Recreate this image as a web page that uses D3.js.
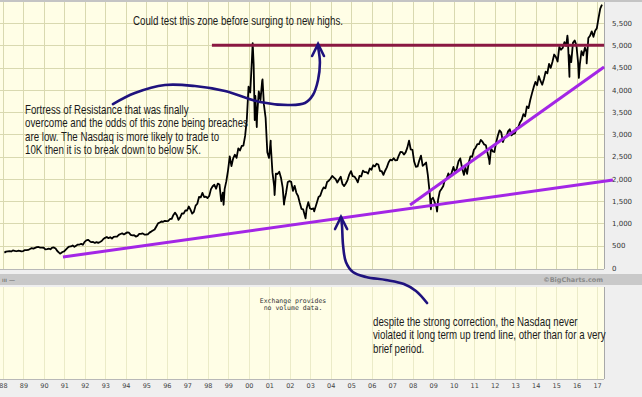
<!DOCTYPE html>
<html>
<head>
<meta charset="utf-8">
<script src="https://cdn.jsdelivr.net/npm/d3@7/dist/d3.min.js"></script>
<style>
  body { margin: 0; background: #efefef; }
  svg { display: block; }
</style>
</head>
<body>
<svg id="chart" width="642" height="397"></svg>
<script>
// Nasdaq composite, monthly closes from Jan 1988
const startYear = 1988;
const closes = [
  345, 367, 374, 379, 371, 394, 387, 376, 387, 383, 371, 381,      // 1988
  401, 399, 406, 427, 446, 435, 453, 469, 472, 456, 456, 455,      // 1989
  416, 425, 435, 421, 459, 462, 438, 381, 345, 329, 359, 374,      // 1990
  414, 453, 482, 484, 506, 476, 502, 526, 527, 542, 523, 586,      // 1991
  620, 633, 603, 579, 585, 563, 580, 563, 583, 605, 652, 677,      // 1992
  696, 670, 690, 661, 700, 704, 705, 743, 763, 779, 754, 777,      // 1993
  800, 793, 743, 733, 735, 706, 722, 765, 764, 777, 750, 752,      // 1994
  756, 794, 817, 843, 864, 933, 1001, 1020, 1044, 1036, 1059, 1052, // 1995
  1060, 1100, 1101, 1191, 1243, 1185, 1081, 1141, 1227, 1222, 1293, 1291, // 1996
  1380, 1309, 1222, 1260, 1400, 1442, 1594, 1587, 1686, 1594, 1601, 1570, // 1997
  1619, 1771, 1835, 1868, 1779, 1895, 1873, 1499, 1694, 1771, 1950, 2193, // 1998
  2506, 2288, 2461, 2543, 2471, 2686, 2638, 2739, 2746, 2966, 3336, 4069, // 1999
  3940, 4697, 4573, 3861, 3401, 3966, 3767, 4206, 3673, 3370, 2598, 2471, // 2000
  2773, 2152, 1840, 2116, 2110, 2161, 2027, 1805, 1499, 1690, 1931, 1950, // 2001
  1934, 1731, 1845, 1688, 1616, 1463, 1328, 1315, 1172, 1330, 1479, 1336, // 2002
  1321, 1338, 1341, 1464, 1596, 1623, 1735, 1810, 1787, 1932, 1960, 2003, // 2003
  2066, 2030, 1994, 1920, 1987, 2048, 1887, 1838, 1897, 1975, 2097, 2175, // 2004
  2062, 2052, 1999, 1922, 2068, 2057, 2185, 2152, 2152, 2120, 2233, 2205, // 2005
  2306, 2281, 2340, 2323, 2179, 2172, 2091, 2184, 2258, 2367, 2432, 2415, // 2006
  2464, 2416, 2422, 2525, 2605, 2603, 2546, 2596, 2702, 2859, 2661, 2652, // 2007
  2389, 2271, 2279, 2413, 2523, 2293, 2326, 2368, 2092, 1721, 1536, 1577, // 2008
  1476, 1378, 1529, 1717, 1774, 1835, 1979, 2009, 2122, 2045, 2145, 2269, // 2009
  2147, 2238, 2398, 2461, 2257, 2109, 2255, 2114, 2369, 2507, 2498, 2653, // 2010
  2700, 2782, 2781, 2874, 2835, 2774, 2756, 2579, 2415, 2684, 2620, 2605, // 2011
  2814, 2967, 3091, 3046, 2827, 2935, 2940, 3067, 3116, 2977, 3010, 3020, // 2012
  3142, 3160, 3268, 3329, 3456, 3403, 3626, 3590, 3771, 3920, 4060, 4177, // 2013
  4104, 4308, 4199, 4115, 4243, 4408, 4370, 4580, 4493, 4631, 4792, 4736, // 2014
  4635, 4964, 4901, 4941, 5070, 4987, 5128, 4777, 4620, 5054, 5109, 5007, // 2015
  4614, 4558, 4870, 4775, 4948, 4843, 5162, 5213, 5312, 5189, 5324, 5383, // 2016
  5615, 5825, 5912                                                   // 2017
];

// intra-month highs and lows visible as spikes [decimal year, value]
const extremes = [
  [1990.79, 325], [1998.77, 1419], [2000.19, 5048], [2000.29, 3321],
  [2000.39, 3164], [2000.67, 4234], [2001.07, 2859], [2001.26, 1639],
  [2001.72, 1423], [2002.77, 1114], [2003.19, 1271], [2008.89, 1316],
  [2009.19, 1268], [2010.50, 2091], [2011.75, 2335], [2015.55, 5218],
  [2015.65, 4292], [2016.11, 4267], [2016.49, 4594]
];

const priceTicks = [0, 500, 1000, 1500, 2000, 2500, 3000, 3500, 4000, 4500, 5000, 5500];
const yearTicks = [1988, 1989, 1990, 1991, 1992, 1993, 1994, 1995, 1996, 1997,
  1998, 1999, 2000, 2001, 2002, 2003, 2004, 2005, 2006, 2007,
  2008, 2009, 2010, 2011, 2012, 2013, 2014, 2015, 2016, 2017];

// hand drawn annotations, in chart units [decimal year, value]
const resistanceLine = [[1998.20, 5000], [2017.34, 5000]];
const longTrend = [[1990.93, 247], [2017.77, 1975]];
const recentTrend = [[2007.87, 1414], [2017.34, 4512]];
const arrowTop = [[1993.37, 3681], [1994.44, 3928], [1995.91, 4108], [1997.37, 4085],
  [1998.84, 3973], [2000.55, 3726], [2002.01, 3659], [2002.74, 3704],
  [2003.13, 3883], [2003.38, 4220], [2003.47, 4624], [2003.38, 4961]];
const arrowTopHead = [[2003.09, 4759], [2003.38, 5028], [2003.67, 4759]];
const arrowLow = [[2004.50, 1145], [2004.55, 943], [2004.60, 516], [2004.74, 135],
  [2005.08, -90], [2005.72, -202], [2006.69, -269], [2007.57, -359],
  [2008.16, -516], [2008.70, -786]];
const arrowLowHead = [[2004.21, 875], [2004.50, 1145], [2004.80, 875]];

const noteTop = ["Could test this zone before surging to new highs."];
const noteLeft = ["Fortress of Resistance that was finally",
  "overcome and the odds of this zone being breaches",
  "are low. The Nasdaq is more likely to trade to",
  "10K then it is to break down to below 5K."];
const noteBottom = ["despite the strong correction, the Nasdaq never",
  "violated it long term up trend line, other than for a very",
  "brief period."];

const plot = { left: 0, right: 604, top: 2, bottom: 269 };
const vol = { top: 287, bottom: 379 };

const svg = d3.select('#chart');

const x = d3.scaleLinear()
  .domain([1987.858, 2017.336])
  .range([plot.left, plot.right]);

const y = d3.scaleLinear()
  .domain([0, 5500])
  .range([268, 23]);

const series = closes.map((v, i) => [startYear + (i + 0.85) / 12, v])
  .concat(extremes)
  .sort((a, b) => a[0] - b[0]);

// backgrounds
svg.append('rect').attr('width', 642).attr('height', 397).attr('fill', '#efefef');
svg.append('rect').attr('width', 642).attr('height', plot.top).attr('fill', '#c4c4c4');
svg.append('rect')
  .attr('x', plot.left).attr('y', plot.top)
  .attr('width', plot.right - plot.left).attr('height', plot.bottom - plot.top)
  .attr('fill', '#fffee6');
svg.append('rect').attr('y', 274).attr('width', 642).attr('height', 11).attr('fill', '#c9c9c9');
svg.append('rect')
  .attr('x', plot.left).attr('y', vol.top)
  .attr('width', plot.right - plot.left).attr('height', vol.bottom - vol.top)
  .attr('fill', '#fffee6');

// grid
svg.append('g')
  .selectAll('line')
  .data(priceTicks.filter(d => d > 0))
  .join('line')
  .attr('x1', plot.left).attr('x2', plot.right)
  .attr('y1', d => Math.round(y(d)) + 0.5).attr('y2', d => Math.round(y(d)) + 0.5)
  .attr('stroke', '#d9d9b0');

svg.append('g')
  .selectAll('line')
  .data(yearTicks)
  .join('line')
  .attr('x1', d => Math.round(x(d)) + 0.5).attr('x2', d => Math.round(x(d)) + 0.5)
  .attr('y1', plot.top).attr('y2', plot.bottom)
  .attr('stroke', '#d9d9b0');

svg.append('g')
  .selectAll('line')
  .data(yearTicks)
  .join('line')
  .attr('x1', d => Math.round(x(d)) + 0.5).attr('x2', d => Math.round(x(d)) + 0.5)
  .attr('y1', vol.top).attr('y2', vol.bottom)
  .attr('stroke', '#ebebc8');

// frame
svg.append('line')
  .attr('x1', plot.right + 0.5).attr('x2', plot.right + 0.5)
  .attr('y1', plot.top).attr('y2', plot.bottom)
  .attr('stroke', '#a8a8a8');
svg.append('line')
  .attr('x1', plot.left).attr('x2', plot.right)
  .attr('y1', plot.bottom + 0.5).attr('y2', plot.bottom + 0.5)
  .attr('stroke', '#b8b8b8');
svg.append('line')
  .attr('x1', plot.right + 0.5).attr('x2', plot.right + 0.5)
  .attr('y1', vol.top).attr('y2', vol.bottom)
  .attr('stroke', '#a8a8a8');
svg.append('line')
  .attr('x1', plot.left).attr('x2', plot.right)
  .attr('y1', vol.bottom + 0.5).attr('y2', vol.bottom + 0.5)
  .attr('stroke', '#b8b8b8');

// axes
svg.append('g')
  .attr('transform', `translate(${plot.right},0)`)
  .call(d3.axisRight(y).tickValues(priceTicks).tickSize(0).tickPadding(8).tickFormat(d3.format(',')))
  .call(g => g.select('.domain').remove())
  .selectAll('text')
  .attr('font-family', 'DejaVu Sans, Verdana, sans-serif')
  .attr('font-size', 7)
  .attr('fill', '#333');

svg.append('g')
  .attr('transform', `translate(0,${vol.bottom})`)
  .call(d3.axisBottom(x).tickValues(yearTicks).tickSize(0).tickPadding(4).tickFormat(d => String(d).slice(2)))
  .call(g => g.select('.domain').remove())
  .selectAll('text')
  .attr('font-family', 'DejaVu Sans, Verdana, sans-serif')
  .attr('font-size', 6.5)
  .attr('fill', '#444');

// price line
svg.append('clipPath').attr('id', 'clip')
  .append('rect')
  .attr('x', plot.left).attr('y', plot.top)
  .attr('width', plot.right - plot.left).attr('height', plot.bottom - plot.top);

const line = d3.line().x(d => x(d[0])).y(d => y(d[1]));

svg.append('path')
  .datum(series)
  .attr('clip-path', 'url(#clip)')
  .attr('fill', 'none')
  .attr('stroke', '#000')
  .attr('stroke-width', 1.8)
  .attr('stroke-linejoin', 'round')
  .attr('d', line);

// volume panel texts
svg.append('text')
  .attr('x', 293).attr('y', 303)
  .attr('text-anchor', 'middle')
  .attr('font-family', 'DejaVu Sans Mono, monospace')
  .attr('font-size', 6.5)
  .attr('fill', '#333')
  .selectAll('tspan')
  .data(['Exchange provides', 'no volume data.'])
  .join('tspan')
  .attr('x', 293)
  .attr('dy', (d, i) => i ? 7 : 0)
  .text(d => d);

svg.append('text')
  .attr('x', 603).attr('y', 282)
  .attr('text-anchor', 'end')
  .attr('font-family', 'DejaVu Sans, Verdana, sans-serif')
  .attr('font-weight', 'bold')
  .attr('font-size', 6.5)
  .attr('fill', '#8a8a8a')
  .text('\u00A9BigCharts.com');

svg.append('text')
  .attr('x', 2).attr('y', 282)
  .attr('font-family', 'DejaVu Sans, sans-serif')
  .attr('font-size', 6)
  .attr('fill', '#555')
  .text('\u0131\u0131\u0131 \u2014');

// annotations
svg.append('path')
  .datum(resistanceLine)
  .attr('fill', 'none')
  .attr('stroke', '#8a1842')
  .attr('stroke-width', 2.8)
  .attr('d', line);

svg.selectAll('path.trend')
  .data([longTrend, recentTrend])
  .join('path')
  .attr('class', 'trend')
  .attr('fill', 'none')
  .attr('stroke', '#a326e6')
  .attr('stroke-width', 3)
  .attr('d', line);

const curve = d3.line().x(d => x(d[0])).y(d => y(d[1])).curve(d3.curveCatmullRom);

svg.selectAll('path.arrow')
  .data([arrowTop, arrowLow])
  .join('path')
  .attr('class', 'arrow')
  .attr('fill', 'none')
  .attr('stroke', '#1f127e')
  .attr('stroke-width', 2.6)
  .attr('stroke-linecap', 'round')
  .attr('d', curve);

svg.selectAll('path.head')
  .data([arrowTopHead, arrowLowHead])
  .join('path')
  .attr('class', 'head')
  .attr('fill', 'none')
  .attr('stroke', '#1f127e')
  .attr('stroke-width', 2.6)
  .attr('stroke-linecap', 'round')
  .attr('stroke-linejoin', 'miter')
  .attr('d', line);

// notes: Arial-like face squeezed to the narrow width of the original
function note(lines, x0, y0) {
  svg.append('g')
    .attr('transform', `translate(${x0},${y0}) scale(0.81,1)`)
    .append('text')
    .attr('font-family', '"Liberation Sans", Arial, sans-serif')
    .attr('font-size', 12)
    .attr('fill', '#1a1a1a')
    .selectAll('tspan')
    .data(lines)
    .join('tspan')
    .attr('x', 0)
    .attr('y', (d, i) => i * 13.4)
    .text(d => d);
}

note(noteTop, 133, 25);
note(noteLeft, 25, 114);
note(noteBottom, 373, 326);
</script>
</body>
</html>
